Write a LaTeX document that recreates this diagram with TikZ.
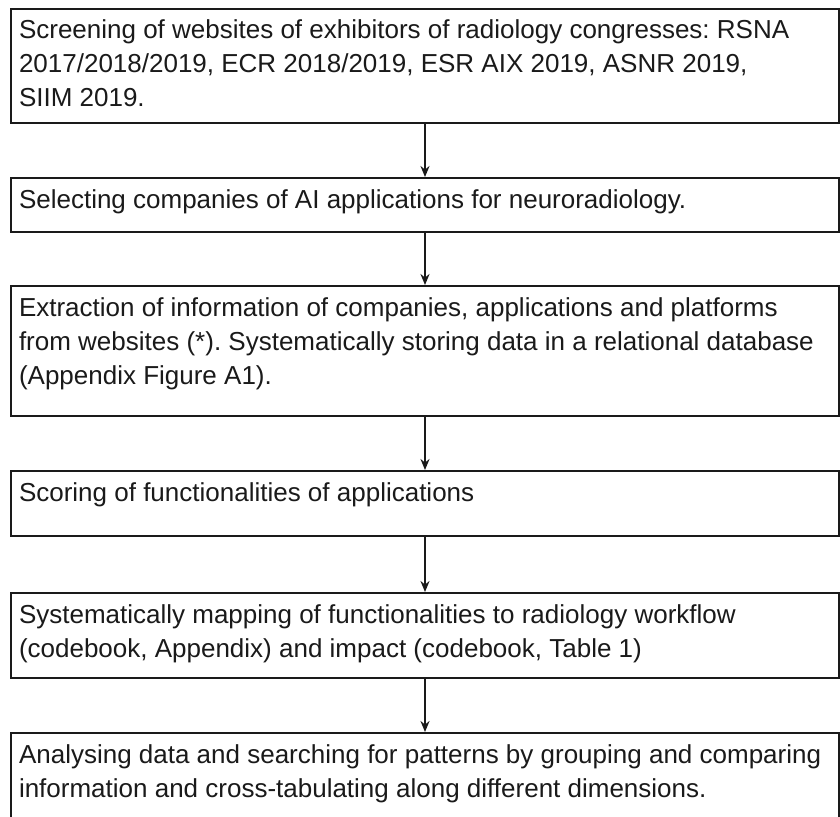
\documentclass[tikz,border=0pt]{standalone}
\usepackage{fontspec}
\setmainfont{Liberation Sans}
\usetikzlibrary{arrows.meta}
\definecolor{ink}{HTML}{1A1A1A}
\frenchspacing
\newcommand{\stagetext}[2]{\parbox[c][#1][t]{812pt}{\fontsize{26}{34}\selectfont\frenchspacing\raggedright\rule{0pt}{30pt}#2}}
\tikzset{
  stagebox/.style={draw=ink, line width=2pt, inner xsep=8pt, inner ysep=0pt, anchor=north west, text=ink},
  flowarrow/.style={draw=ink, line width=2pt, -{Stealth[length=11pt,width=9pt]}}
}
\begin{document}
\begin{tikzpicture}[x=1pt,y=-1pt]
\clip (0,0) rectangle (840,816);
\fill[white] (0,0) rectangle (840,816);
\node[stagebox] (b1) at (10,8) {\stagetext{114pt}{Screening of websites of exhibitors of radiology congresses: RSNA\\2017/2018/2019, ECR 2018/2019, ESR AIX 2019, ASNR 2019,\\SIIM 2019.}};
\node[stagebox] (b2) at (10,177) {\stagetext{54pt}{Selecting companies of AI applications for neuroradiology.}};
\node[stagebox] (b3) at (10,285) {\stagetext{130pt}{Extraction of information of companies, applications and platforms\\from websites (*). Systematically storing data in a relational database\\(Appendix Figure A1).}};
\node[stagebox] (b4) at (10,470) {\stagetext{65pt}{Scoring of functionalities of applications}};
\node[stagebox] (b5) at (10,592) {\stagetext{85pt}{Systematically mapping of functionalities to radiology workflow\\(codebook, Appendix) and impact (codebook, Table 1)}};
\node[stagebox] (b6) at (10,732) {\stagetext{200pt}{Analysing data and searching for patterns by grouping and comparing\\information and cross-tabulating along different dimensions.}};
\draw[flowarrow] (b1.south) -- (b2.north);
\draw[flowarrow] (b2.south) -- (b3.north);
\draw[flowarrow] (b3.south) -- (b4.north);
\draw[flowarrow] (b4.south) -- (b5.north);
\draw[flowarrow] (b5.south) -- (b6.north);
\end{tikzpicture}
\end{document}
